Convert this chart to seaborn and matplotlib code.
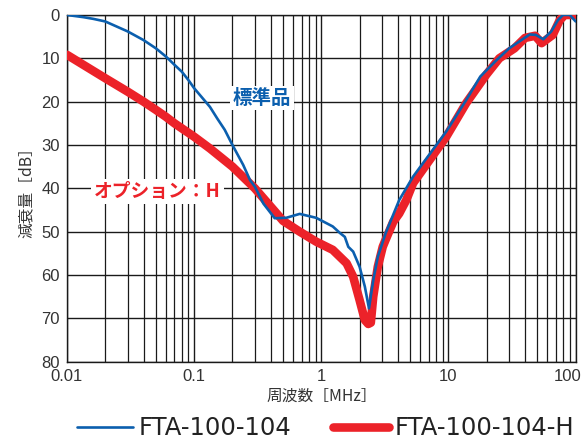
import numpy as np
import pandas as pd
import matplotlib
matplotlib.use("Agg")
import matplotlib.pyplot as plt
import matplotlib.transforms as mtransforms
import seaborn as sns

# ---- data ----
std_freq = [0.01, 0.0134, 0.0161, 0.02, 0.03, 0.04, 0.05, 0.06, 0.07, 0.08, 0.09, 0.1,
            0.133, 0.152, 0.174, 0.2, 0.243, 0.275, 0.3, 0.35, 0.43, 0.53, 0.676, 0.91,
            1.23, 1.4, 1.53, 1.63, 1.78, 2.0, 2.2, 2.37, 2.56, 2.78, 3.2, 4.1, 5.27,
            9.6, 13.8, 17.8, 23.9, 30, 43.5, 48.6, 55.7, 64.3, 72.5, 79.6, 90, 100]
std_db = [0.0, 0.5, 0.9, 1.5, 3.8, 5.8, 7.7, 9.6, 11.5, 13.1, 15.0, 16.9,
          21.2, 23.9, 26.5, 30.0, 34.6, 38.1, 39.6, 43.5, 46.9, 46.8, 45.9, 46.8,
          48.8, 50.3, 51.2, 53.5, 54.6, 58.1, 62.7, 67.7, 61.2, 55.8, 50.4, 42.7, 37.3,
          26.9, 19.6, 14.2, 10.4, 7.7, 4.5, 4.6, 5.6, 3.8, 1.2, 0.0, 0.0, 1.5]

opt_freq = [0.01, 0.02, 0.03, 0.04, 0.05, 0.06, 0.07, 0.1, 0.133, 0.2, 0.3, 0.5,
            0.676, 0.91, 1.23, 1.58, 1.78, 2.0, 2.2, 2.34, 2.45, 2.56, 2.78, 3.04,
            3.2, 3.68, 4.1, 4.66, 5.27, 9.6, 13.8, 19.8, 25.1, 33, 40, 48, 54, 66,
            75, 82, 90, 100]
opt_db = [9.2, 14.6, 17.7, 20.0, 21.9, 23.5, 25.0, 28.1, 30.8, 35.0, 40.0, 47.5,
          50.0, 52.3, 54.2, 57.3, 60.4, 65.8, 70.4, 71.3, 71.0, 65.0, 58.1, 53.5,
          51.9, 47.7, 45.8, 42.7, 38.8, 28.1, 20.3, 13.8, 10.0, 7.7, 5.3, 4.8, 6.5, 4.6,
          1.2, 0.0, 0.0, 0.0]

series_names = ["FTA-100-104", "FTA-100-104-H"]
x_ticks = [0.01, 0.1, 1, 10, 100]
x_tick_labels = ["0.01", "0.1", "1", "10", "100"]
y_ticks = [0, 10, 20, 30, 40, 50, 60, 70, 80]

df_std = pd.DataFrame({"freq": std_freq, "db": std_db})
df_opt = pd.DataFrame({"freq": opt_freq, "db": opt_db})

# ---- style ----
sns.set_theme(style="white")
plt.rcParams["font.family"] = ["Noto Sans CJK JP", "DejaVu Sans"]

BLUE = "#0b5fae"
RED = "#ec2229"

fig = plt.figure(figsize=(5.83, 4.40), dpi=100)
ax = fig.add_axes([0.1149, 0.178, 0.8725, 0.788])

sns.lineplot(data=df_opt, x="freq", y="db", ax=ax, color=RED, linewidth=6.2,
             label=series_names[1], zorder=3, solid_joinstyle="round")
sns.lineplot(data=df_std, x="freq", y="db", ax=ax, color=BLUE, linewidth=1.9,
             label=series_names[0], zorder=4, solid_joinstyle="round")

ax.set_xscale("log")
ax.set_xlim(0.01, 100)
ax.set_ylim(80, 0)
ax.set_xticks(x_ticks)
ax.set_xticklabels(x_tick_labels)
ax.set_yticks(y_ticks)
ax.set_yticklabels([str(v) for v in y_ticks])
ax.xaxis.set_minor_locator(matplotlib.ticker.LogLocator(base=10, subs=np.arange(2, 10)))
ax.xaxis.set_minor_formatter(matplotlib.ticker.NullFormatter())

ax.grid(True, which="major", axis="both", color="#1a1a1a", linewidth=1.0, zorder=1)
ax.grid(True, which="minor", axis="x", color="#1a1a1a", linewidth=0.9, zorder=1)
ax.set_axisbelow(True)
ax.tick_params(which="both", length=0, pad=5, labelsize=12, labelcolor="#333333")
for lab in ax.get_xticklabels() + ax.get_yticklabels():
    lab.set_fontfamily(["Liberation Sans", "DejaVu Sans"])
# keep the last x label inside the figure, as in the reference
last = ax.get_xticklabels()[-1]
last.set_transform(last.get_transform() +
                   mtransforms.ScaledTranslation(-8 / 100, 0, fig.dpi_scale_trans))
for s in ax.spines.values():
    s.set_color("#1a1a1a")
    s.set_linewidth(1.0)

ax.set_xlabel("周波数［MHz］", fontsize=11.3, color="#333333", labelpad=3)
ax.set_ylabel("減衰量［dB］", fontsize=11.3, color="#333333", labelpad=5)

ax.text(0.34, 19.2, "標準品", color=BLUE, fontsize=14, fontweight="bold",
        ha="center", va="center", zorder=5,
        bbox=dict(facecolor="white", edgecolor="none", pad=2))
ax.text(0.0514, 40.8, "オプション：H", color=RED, fontsize=13.5, fontweight="bold",
        ha="center", va="center", zorder=5,
        bbox=dict(facecolor="white", edgecolor="none", pad=2))

handles, labels = ax.get_legend_handles_labels()
order = [labels.index(series_names[0]), labels.index(series_names[1])]
ax.get_legend().remove()
fig.legend([handles[i] for i in order], [labels[i] for i in order],
           loc="center", bbox_to_anchor=(0.559, 0.027), ncol=2, frameon=False,
           prop={"family": "DejaVu Sans", "size": 17.5},
           handlelength=2.3, handletextpad=0.25, columnspacing=1.7,
           labelcolor="#222222", borderaxespad=0, borderpad=0)

fig.savefig("out.png", dpi=100)
